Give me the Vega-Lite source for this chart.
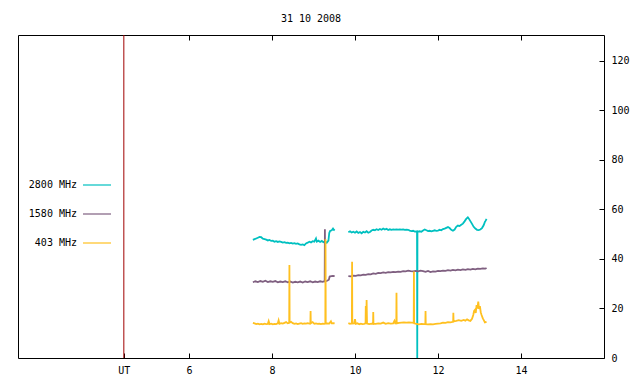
{
  "$schema": "https://vega.github.io/schema/vega-lite/v6.json",
  "width": 586,
  "height": 323,
  "autosize": {"type": "none"},
  "padding": {"left": 18, "top": 35, "right": 36, "bottom": 26},
  "background": "white",
  "title": {"text": "31 10 2008", "anchor": "middle", "font": "DejaVu Sans Mono", "fontSize": 10, "fontWeight": "normal", "color": "black", "offset": 11},
  "config": {
    "view": {"stroke": "black", "strokeWidth": 1},
    "axis": {"domain": false, "grid": false, "labelFont": "DejaVu Sans Mono", "labelFontSize": 10, "labelColor": "black", "tickColor": "black", "tickSize": -5, "title": null}
  },
  "datasets": {
    "traces": [
      {"s":"2800 MHz","g":1,"t":7.54,"v":47.7},{"s":"2800 MHz","g":1,"t":7.58,"v":48.0},{"s":"2800 MHz","g":1,"t":7.62,"v":48.3},{"s":"2800 MHz","g":1,"t":7.66,"v":48.6},{"s":"2800 MHz","g":1,"t":7.70,"v":48.9},{"s":"2800 MHz","g":1,"t":7.74,"v":48.8},{"s":"2800 MHz","g":1,"t":7.78,"v":48.2},{"s":"2800 MHz","g":1,"t":7.82,"v":48.0},{"s":"2800 MHz","g":1,"t":7.86,"v":47.8},{"s":"2800 MHz","g":1,"t":7.90,"v":47.5},{"s":"2800 MHz","g":1,"t":7.94,"v":47.7},{"s":"2800 MHz","g":1,"t":7.98,"v":47.3},{"s":"2800 MHz","g":1,"t":8.02,"v":47.4},{"s":"2800 MHz","g":1,"t":8.06,"v":47.0},{"s":"2800 MHz","g":1,"t":8.10,"v":47.2},{"s":"2800 MHz","g":1,"t":8.14,"v":46.9},{"s":"2800 MHz","g":1,"t":8.18,"v":47.1},{"s":"2800 MHz","g":1,"t":8.22,"v":46.9},{"s":"2800 MHz","g":1,"t":8.26,"v":46.6},{"s":"2800 MHz","g":1,"t":8.30,"v":46.8},{"s":"2800 MHz","g":1,"t":8.34,"v":46.5},{"s":"2800 MHz","g":1,"t":8.38,"v":46.6},{"s":"2800 MHz","g":1,"t":8.42,"v":46.3},{"s":"2800 MHz","g":1,"t":8.46,"v":46.5},{"s":"2800 MHz","g":1,"t":8.50,"v":46.2},{"s":"2800 MHz","g":1,"t":8.54,"v":46.4},{"s":"2800 MHz","g":1,"t":8.58,"v":46.1},{"s":"2800 MHz","g":1,"t":8.62,"v":46.3},{"s":"2800 MHz","g":1,"t":8.66,"v":45.9},{"s":"2800 MHz","g":1,"t":8.70,"v":45.7},{"s":"2800 MHz","g":1,"t":8.74,"v":45.9},{"s":"2800 MHz","g":1,"t":8.78,"v":45.6},{"s":"2800 MHz","g":1,"t":8.82,"v":46.3},{"s":"2800 MHz","g":1,"t":8.86,"v":46.6},{"s":"2800 MHz","g":1,"t":8.90,"v":47.0},{"s":"2800 MHz","g":1,"t":8.94,"v":46.7},{"s":"2800 MHz","g":1,"t":8.98,"v":47.2},{"s":"2800 MHz","g":1,"t":9.02,"v":47.0},{"s":"2800 MHz","g":1,"t":9.06,"v":48.3},{"s":"2800 MHz","g":1,"t":9.08,"v":47.0},{"s":"2800 MHz","g":1,"t":9.12,"v":47.4},{"s":"2800 MHz","g":1,"t":9.16,"v":46.9},{"s":"2800 MHz","g":1,"t":9.20,"v":47.3},{"s":"2800 MHz","g":1,"t":9.24,"v":46.8},{"s":"2800 MHz","g":1,"t":9.28,"v":47.1},{"s":"2800 MHz","g":1,"t":9.32,"v":46.6},{"s":"2800 MHz","g":1,"t":9.36,"v":47.4},{"s":"2800 MHz","g":1,"t":9.38,"v":50.5},{"s":"2800 MHz","g":1,"t":9.40,"v":51.3},{"s":"2800 MHz","g":1,"t":9.44,"v":51.6},{"s":"2800 MHz","g":1,"t":9.47,"v":52.3},{"s":"2800 MHz","g":1,"t":9.49,"v":51.8},{"s":"2800 MHz","g":1,"t":9.51,"v":51.5},
      {"s":"2800 MHz","g":2,"t":9.84,"v":50.8},{"s":"2800 MHz","g":2,"t":9.88,"v":51.2},{"s":"2800 MHz","g":2,"t":9.92,"v":50.7},{"s":"2800 MHz","g":2,"t":9.96,"v":51.0},{"s":"2800 MHz","g":2,"t":10.00,"v":50.6},{"s":"2800 MHz","g":2,"t":10.04,"v":51.1},{"s":"2800 MHz","g":2,"t":10.08,"v":50.5},{"s":"2800 MHz","g":2,"t":10.12,"v":50.9},{"s":"2800 MHz","g":2,"t":10.16,"v":50.4},{"s":"2800 MHz","g":2,"t":10.20,"v":51.0},{"s":"2800 MHz","g":2,"t":10.24,"v":50.7},{"s":"2800 MHz","g":2,"t":10.28,"v":51.2},{"s":"2800 MHz","g":2,"t":10.32,"v":50.6},{"s":"2800 MHz","g":2,"t":10.36,"v":50.9},{"s":"2800 MHz","g":2,"t":10.40,"v":51.5},{"s":"2800 MHz","g":2,"t":10.44,"v":51.8},{"s":"2800 MHz","g":2,"t":10.48,"v":51.6},{"s":"2800 MHz","g":2,"t":10.52,"v":52.0},{"s":"2800 MHz","g":2,"t":10.56,"v":51.7},{"s":"2800 MHz","g":2,"t":10.60,"v":52.1},{"s":"2800 MHz","g":2,"t":10.64,"v":51.8},{"s":"2800 MHz","g":2,"t":10.68,"v":52.3},{"s":"2800 MHz","g":2,"t":10.72,"v":51.9},{"s":"2800 MHz","g":2,"t":10.76,"v":52.2},{"s":"2800 MHz","g":2,"t":10.80,"v":51.7},{"s":"2800 MHz","g":2,"t":10.84,"v":52.0},{"s":"2800 MHz","g":2,"t":10.88,"v":51.8},{"s":"2800 MHz","g":2,"t":10.92,"v":52.0},{"s":"2800 MHz","g":2,"t":10.96,"v":51.9},{"s":"2800 MHz","g":2,"t":11.00,"v":52.0},{"s":"2800 MHz","g":2,"t":11.04,"v":51.9},{"s":"2800 MHz","g":2,"t":11.08,"v":52.0},{"s":"2800 MHz","g":2,"t":11.12,"v":51.9},{"s":"2800 MHz","g":2,"t":11.16,"v":52.0},{"s":"2800 MHz","g":2,"t":11.20,"v":51.8},{"s":"2800 MHz","g":2,"t":11.24,"v":51.9},{"s":"2800 MHz","g":2,"t":11.28,"v":51.8},{"s":"2800 MHz","g":2,"t":11.32,"v":51.5},{"s":"2800 MHz","g":2,"t":11.36,"v":51.3},{"s":"2800 MHz","g":2,"t":11.40,"v":51.4},{"s":"2800 MHz","g":2,"t":11.44,"v":51.1},{"s":"2800 MHz","g":2,"t":11.495,"v":51.2},{"s":"2800 MHz","g":2,"t":11.50,"v":0},{"s":"2800 MHz","g":2,"t":11.505,"v":51.0},{"s":"2800 MHz","g":2,"t":11.56,"v":51.2},{"s":"2800 MHz","g":2,"t":11.60,"v":51.0},{"s":"2800 MHz","g":2,"t":11.64,"v":51.5},{"s":"2800 MHz","g":2,"t":11.68,"v":51.9},{"s":"2800 MHz","g":2,"t":11.72,"v":51.6},{"s":"2800 MHz","g":2,"t":11.76,"v":51.3},{"s":"2800 MHz","g":2,"t":11.80,"v":51.4},{"s":"2800 MHz","g":2,"t":11.84,"v":51.2},{"s":"2800 MHz","g":2,"t":11.88,"v":51.4},{"s":"2800 MHz","g":2,"t":11.92,"v":51.6},{"s":"2800 MHz","g":2,"t":11.96,"v":51.4},{"s":"2800 MHz","g":2,"t":12.00,"v":51.5},{"s":"2800 MHz","g":2,"t":12.04,"v":51.8},{"s":"2800 MHz","g":2,"t":12.08,"v":51.6},{"s":"2800 MHz","g":2,"t":12.12,"v":52.1},{"s":"2800 MHz","g":2,"t":12.16,"v":52.3},{"s":"2800 MHz","g":2,"t":12.20,"v":52.6},{"s":"2800 MHz","g":2,"t":12.24,"v":52.9},{"s":"2800 MHz","g":2,"t":12.28,"v":52.5},{"s":"2800 MHz","g":2,"t":12.32,"v":51.8},{"s":"2800 MHz","g":2,"t":12.36,"v":51.4},{"s":"2800 MHz","g":2,"t":12.40,"v":51.9},{"s":"2800 MHz","g":2,"t":12.44,"v":53.0},{"s":"2800 MHz","g":2,"t":12.48,"v":53.5},{"s":"2800 MHz","g":2,"t":12.52,"v":53.3},{"s":"2800 MHz","g":2,"t":12.56,"v":53.8},{"s":"2800 MHz","g":2,"t":12.60,"v":54.3},{"s":"2800 MHz","g":2,"t":12.64,"v":55.2},{"s":"2800 MHz","g":2,"t":12.68,"v":56.2},{"s":"2800 MHz","g":2,"t":12.72,"v":56.8},{"s":"2800 MHz","g":2,"t":12.74,"v":56.4},{"s":"2800 MHz","g":2,"t":12.78,"v":55.3},{"s":"2800 MHz","g":2,"t":12.82,"v":54.2},{"s":"2800 MHz","g":2,"t":12.86,"v":53.0},{"s":"2800 MHz","g":2,"t":12.90,"v":52.3},{"s":"2800 MHz","g":2,"t":12.94,"v":51.8},{"s":"2800 MHz","g":2,"t":12.98,"v":51.7},{"s":"2800 MHz","g":2,"t":13.02,"v":51.9},{"s":"2800 MHz","g":2,"t":13.06,"v":52.5},{"s":"2800 MHz","g":2,"t":13.10,"v":53.6},{"s":"2800 MHz","g":2,"t":13.13,"v":55.0},{"s":"2800 MHz","g":2,"t":13.15,"v":55.5},{"s":"2800 MHz","g":2,"t":13.17,"v":56.2},
      {"s":"1580 MHz","g":1,"t":7.54,"v":30.6},{"s":"1580 MHz","g":1,"t":7.60,"v":31.0},{"s":"1580 MHz","g":1,"t":7.66,"v":30.7},{"s":"1580 MHz","g":1,"t":7.72,"v":31.1},{"s":"1580 MHz","g":1,"t":7.78,"v":30.8},{"s":"1580 MHz","g":1,"t":7.84,"v":31.2},{"s":"1580 MHz","g":1,"t":7.90,"v":30.7},{"s":"1580 MHz","g":1,"t":7.96,"v":31.0},{"s":"1580 MHz","g":1,"t":8.02,"v":30.8},{"s":"1580 MHz","g":1,"t":8.08,"v":31.1},{"s":"1580 MHz","g":1,"t":8.14,"v":30.6},{"s":"1580 MHz","g":1,"t":8.20,"v":30.9},{"s":"1580 MHz","g":1,"t":8.26,"v":30.7},{"s":"1580 MHz","g":1,"t":8.32,"v":31.0},{"s":"1580 MHz","g":1,"t":8.38,"v":30.6},{"s":"1580 MHz","g":1,"t":8.44,"v":30.9},{"s":"1580 MHz","g":1,"t":8.50,"v":30.5},{"s":"1580 MHz","g":1,"t":8.56,"v":30.8},{"s":"1580 MHz","g":1,"t":8.62,"v":30.6},{"s":"1580 MHz","g":1,"t":8.68,"v":30.9},{"s":"1580 MHz","g":1,"t":8.74,"v":30.5},{"s":"1580 MHz","g":1,"t":8.80,"v":30.9},{"s":"1580 MHz","g":1,"t":8.86,"v":30.7},{"s":"1580 MHz","g":1,"t":8.92,"v":31.0},{"s":"1580 MHz","g":1,"t":8.98,"v":30.6},{"s":"1580 MHz","g":1,"t":9.04,"v":30.9},{"s":"1580 MHz","g":1,"t":9.10,"v":30.7},{"s":"1580 MHz","g":1,"t":9.16,"v":31.0},{"s":"1580 MHz","g":1,"t":9.22,"v":30.8},{"s":"1580 MHz","g":1,"t":9.27,"v":31.1},{"s":"1580 MHz","g":1,"t":9.275,"v":52.0},{"s":"1580 MHz","g":1,"t":9.28,"v":31.0},{"s":"1580 MHz","g":1,"t":9.33,"v":31.2},{"s":"1580 MHz","g":1,"t":9.37,"v":31.6},{"s":"1580 MHz","g":1,"t":9.39,"v":32.9},{"s":"1580 MHz","g":1,"t":9.43,"v":33.1},{"s":"1580 MHz","g":1,"t":9.47,"v":33.2},{"s":"1580 MHz","g":1,"t":9.51,"v":33.1},
      {"s":"1580 MHz","g":2,"t":9.84,"v":33.1},{"s":"1580 MHz","g":2,"t":9.90,"v":33.0},{"s":"1580 MHz","g":2,"t":9.96,"v":33.3},{"s":"1580 MHz","g":2,"t":10.02,"v":33.2},{"s":"1580 MHz","g":2,"t":10.08,"v":33.5},{"s":"1580 MHz","g":2,"t":10.14,"v":33.4},{"s":"1580 MHz","g":2,"t":10.20,"v":33.7},{"s":"1580 MHz","g":2,"t":10.26,"v":33.6},{"s":"1580 MHz","g":2,"t":10.32,"v":33.9},{"s":"1580 MHz","g":2,"t":10.38,"v":33.8},{"s":"1580 MHz","g":2,"t":10.44,"v":34.2},{"s":"1580 MHz","g":2,"t":10.50,"v":34.0},{"s":"1580 MHz","g":2,"t":10.56,"v":34.4},{"s":"1580 MHz","g":2,"t":10.62,"v":34.3},{"s":"1580 MHz","g":2,"t":10.68,"v":34.6},{"s":"1580 MHz","g":2,"t":10.74,"v":34.4},{"s":"1580 MHz","g":2,"t":10.80,"v":34.7},{"s":"1580 MHz","g":2,"t":10.86,"v":34.6},{"s":"1580 MHz","g":2,"t":10.92,"v":34.8},{"s":"1580 MHz","g":2,"t":10.98,"v":34.7},{"s":"1580 MHz","g":2,"t":11.04,"v":34.9},{"s":"1580 MHz","g":2,"t":11.10,"v":34.8},{"s":"1580 MHz","g":2,"t":11.16,"v":35.1},{"s":"1580 MHz","g":2,"t":11.22,"v":35.0},{"s":"1580 MHz","g":2,"t":11.28,"v":35.3},{"s":"1580 MHz","g":2,"t":11.34,"v":35.1},{"s":"1580 MHz","g":2,"t":11.40,"v":35.0},{"s":"1580 MHz","g":2,"t":11.46,"v":35.2},{"s":"1580 MHz","g":2,"t":11.52,"v":35.0},{"s":"1580 MHz","g":2,"t":11.58,"v":35.3},{"s":"1580 MHz","g":2,"t":11.64,"v":35.1},{"s":"1580 MHz","g":2,"t":11.70,"v":34.8},{"s":"1580 MHz","g":2,"t":11.76,"v":35.2},{"s":"1580 MHz","g":2,"t":11.82,"v":34.7},{"s":"1580 MHz","g":2,"t":11.88,"v":35.0},{"s":"1580 MHz","g":2,"t":11.94,"v":34.9},{"s":"1580 MHz","g":2,"t":12.00,"v":35.2},{"s":"1580 MHz","g":2,"t":12.06,"v":35.1},{"s":"1580 MHz","g":2,"t":12.12,"v":35.3},{"s":"1580 MHz","g":2,"t":12.18,"v":35.2},{"s":"1580 MHz","g":2,"t":12.24,"v":35.5},{"s":"1580 MHz","g":2,"t":12.30,"v":35.3},{"s":"1580 MHz","g":2,"t":12.36,"v":35.6},{"s":"1580 MHz","g":2,"t":12.42,"v":35.4},{"s":"1580 MHz","g":2,"t":12.48,"v":35.7},{"s":"1580 MHz","g":2,"t":12.54,"v":35.5},{"s":"1580 MHz","g":2,"t":12.60,"v":35.8},{"s":"1580 MHz","g":2,"t":12.66,"v":35.6},{"s":"1580 MHz","g":2,"t":12.72,"v":35.9},{"s":"1580 MHz","g":2,"t":12.78,"v":35.7},{"s":"1580 MHz","g":2,"t":12.84,"v":36.0},{"s":"1580 MHz","g":2,"t":12.90,"v":35.8},{"s":"1580 MHz","g":2,"t":12.96,"v":36.1},{"s":"1580 MHz","g":2,"t":13.02,"v":36.0},{"s":"1580 MHz","g":2,"t":13.08,"v":36.2},{"s":"1580 MHz","g":2,"t":13.14,"v":36.1},{"s":"1580 MHz","g":2,"t":13.17,"v":36.4},
      {"s":"403 MHz","g":1,"t":7.54,"v":14.2},{"s":"403 MHz","g":1,"t":7.58,"v":14.0},{"s":"403 MHz","g":1,"t":7.62,"v":13.7},{"s":"403 MHz","g":1,"t":7.66,"v":13.9},{"s":"403 MHz","g":1,"t":7.70,"v":13.6},{"s":"403 MHz","g":1,"t":7.74,"v":13.8},{"s":"403 MHz","g":1,"t":7.78,"v":13.6},{"s":"403 MHz","g":1,"t":7.82,"v":13.9},{"s":"403 MHz","g":1,"t":7.86,"v":13.7},{"s":"403 MHz","g":1,"t":7.90,"v":13.8},{"s":"403 MHz","g":1,"t":7.92,"v":14.9},{"s":"403 MHz","g":1,"t":7.94,"v":13.7},{"s":"403 MHz","g":1,"t":7.98,"v":13.9},{"s":"403 MHz","g":1,"t":8.02,"v":13.6},{"s":"403 MHz","g":1,"t":8.06,"v":13.8},{"s":"403 MHz","g":1,"t":8.10,"v":13.7},{"s":"403 MHz","g":1,"t":8.14,"v":14.0},{"s":"403 MHz","g":1,"t":8.16,"v":15.2},{"s":"403 MHz","g":1,"t":8.18,"v":13.8},{"s":"403 MHz","g":1,"t":8.22,"v":14.1},{"s":"403 MHz","g":1,"t":8.26,"v":13.9},{"s":"403 MHz","g":1,"t":8.30,"v":14.2},{"s":"403 MHz","g":1,"t":8.34,"v":14.5},{"s":"403 MHz","g":1,"t":8.38,"v":14.0},{"s":"403 MHz","g":1,"t":8.415,"v":14.2},{"s":"403 MHz","g":1,"t":8.42,"v":37.6},{"s":"403 MHz","g":1,"t":8.425,"v":14.3},{"s":"403 MHz","g":1,"t":8.46,"v":14.6},{"s":"403 MHz","g":1,"t":8.50,"v":14.1},{"s":"403 MHz","g":1,"t":8.54,"v":13.8},{"s":"403 MHz","g":1,"t":8.58,"v":14.0},{"s":"403 MHz","g":1,"t":8.62,"v":13.7},{"s":"403 MHz","g":1,"t":8.66,"v":13.9},{"s":"403 MHz","g":1,"t":8.70,"v":14.1},{"s":"403 MHz","g":1,"t":8.74,"v":13.8},{"s":"403 MHz","g":1,"t":8.78,"v":14.0},{"s":"403 MHz","g":1,"t":8.82,"v":13.9},{"s":"403 MHz","g":1,"t":8.86,"v":14.1},{"s":"403 MHz","g":1,"t":8.90,"v":13.9},{"s":"403 MHz","g":1,"t":8.925,"v":14.0},{"s":"403 MHz","g":1,"t":8.93,"v":19.0},{"s":"403 MHz","g":1,"t":8.935,"v":14.0},{"s":"403 MHz","g":1,"t":8.98,"v":14.5},{"s":"403 MHz","g":1,"t":9.02,"v":13.8},{"s":"403 MHz","g":1,"t":9.06,"v":14.0},{"s":"403 MHz","g":1,"t":9.10,"v":13.8},{"s":"403 MHz","g":1,"t":9.14,"v":13.9},{"s":"403 MHz","g":1,"t":9.18,"v":13.7},{"s":"403 MHz","g":1,"t":9.22,"v":13.9},{"s":"403 MHz","g":1,"t":9.26,"v":13.8},{"s":"403 MHz","g":1,"t":9.285,"v":13.9},{"s":"403 MHz","g":1,"t":9.29,"v":48.0},{"s":"403 MHz","g":1,"t":9.295,"v":13.9},{"s":"403 MHz","g":1,"t":9.34,"v":14.0},{"s":"403 MHz","g":1,"t":9.38,"v":13.9},{"s":"403 MHz","g":1,"t":9.42,"v":14.8},{"s":"403 MHz","g":1,"t":9.44,"v":14.0},{"s":"403 MHz","g":1,"t":9.48,"v":14.1},{"s":"403 MHz","g":1,"t":9.51,"v":14.0},
      {"s":"403 MHz","g":2,"t":9.84,"v":14.1},{"s":"403 MHz","g":2,"t":9.88,"v":13.8},{"s":"403 MHz","g":2,"t":9.925,"v":14.0},{"s":"403 MHz","g":2,"t":9.93,"v":38.9},{"s":"403 MHz","g":2,"t":9.935,"v":13.9},{"s":"403 MHz","g":2,"t":9.98,"v":14.0},{"s":"403 MHz","g":2,"t":10.00,"v":15.7},{"s":"403 MHz","g":2,"t":10.02,"v":13.8},{"s":"403 MHz","g":2,"t":10.06,"v":14.0},{"s":"403 MHz","g":2,"t":10.10,"v":13.6},{"s":"403 MHz","g":2,"t":10.14,"v":13.9},{"s":"403 MHz","g":2,"t":10.18,"v":13.7},{"s":"403 MHz","g":2,"t":10.22,"v":13.8},{"s":"403 MHz","g":2,"t":10.255,"v":14.0},{"s":"403 MHz","g":2,"t":10.26,"v":21.0},{"s":"403 MHz","g":2,"t":10.27,"v":14.0},{"s":"403 MHz","g":2,"t":10.28,"v":23.4},{"s":"403 MHz","g":2,"t":10.29,"v":13.9},{"s":"403 MHz","g":2,"t":10.34,"v":13.7},{"s":"403 MHz","g":2,"t":10.40,"v":13.9},{"s":"403 MHz","g":2,"t":10.435,"v":13.8},{"s":"403 MHz","g":2,"t":10.44,"v":18.6},{"s":"403 MHz","g":2,"t":10.445,"v":13.8},{"s":"403 MHz","g":2,"t":10.50,"v":13.8},{"s":"403 MHz","g":2,"t":10.56,"v":14.0},{"s":"403 MHz","g":2,"t":10.62,"v":13.9},{"s":"403 MHz","g":2,"t":10.68,"v":14.3},{"s":"403 MHz","g":2,"t":10.74,"v":13.8},{"s":"403 MHz","g":2,"t":10.80,"v":14.1},{"s":"403 MHz","g":2,"t":10.86,"v":13.9},{"s":"403 MHz","g":2,"t":10.92,"v":14.0},{"s":"403 MHz","g":2,"t":10.95,"v":15.0},{"s":"403 MHz","g":2,"t":10.97,"v":14.0},{"s":"403 MHz","g":2,"t":10.995,"v":14.0},{"s":"403 MHz","g":2,"t":11.00,"v":26.4},{"s":"403 MHz","g":2,"t":11.005,"v":14.0},{"s":"403 MHz","g":2,"t":11.06,"v":14.2},{"s":"403 MHz","g":2,"t":11.12,"v":14.3},{"s":"403 MHz","g":2,"t":11.18,"v":14.4},{"s":"403 MHz","g":2,"t":11.24,"v":14.3},{"s":"403 MHz","g":2,"t":11.30,"v":14.4},{"s":"403 MHz","g":2,"t":11.36,"v":14.3},{"s":"403 MHz","g":2,"t":11.415,"v":14.2},{"s":"403 MHz","g":2,"t":11.42,"v":34.9},{"s":"403 MHz","g":2,"t":11.425,"v":14.0},{"s":"403 MHz","g":2,"t":11.48,"v":13.8},{"s":"403 MHz","g":2,"t":11.54,"v":13.6},{"s":"403 MHz","g":2,"t":11.60,"v":13.8},{"s":"403 MHz","g":2,"t":11.66,"v":13.7},{"s":"403 MHz","g":2,"t":11.695,"v":13.8},{"s":"403 MHz","g":2,"t":11.70,"v":19.0},{"s":"403 MHz","g":2,"t":11.705,"v":13.7},{"s":"403 MHz","g":2,"t":11.76,"v":13.6},{"s":"403 MHz","g":2,"t":11.82,"v":13.7},{"s":"403 MHz","g":2,"t":11.88,"v":13.6},{"s":"403 MHz","g":2,"t":11.94,"v":13.8},{"s":"403 MHz","g":2,"t":12.00,"v":13.9},{"s":"403 MHz","g":2,"t":12.06,"v":14.0},{"s":"403 MHz","g":2,"t":12.12,"v":14.3},{"s":"403 MHz","g":2,"t":12.18,"v":14.2},{"s":"403 MHz","g":2,"t":12.24,"v":14.5},{"s":"403 MHz","g":2,"t":12.30,"v":14.4},{"s":"403 MHz","g":2,"t":12.365,"v":14.6},{"s":"403 MHz","g":2,"t":12.37,"v":18.3},{"s":"403 MHz","g":2,"t":12.375,"v":14.8},{"s":"403 MHz","g":2,"t":12.44,"v":15.0},{"s":"403 MHz","g":2,"t":12.50,"v":15.3},{"s":"403 MHz","g":2,"t":12.56,"v":15.0},{"s":"403 MHz","g":2,"t":12.62,"v":15.4},{"s":"403 MHz","g":2,"t":12.66,"v":15.1},{"s":"403 MHz","g":2,"t":12.70,"v":15.6},{"s":"403 MHz","g":2,"t":12.74,"v":15.2},{"s":"403 MHz","g":2,"t":12.78,"v":15.0},{"s":"403 MHz","g":2,"t":12.82,"v":15.8},{"s":"403 MHz","g":2,"t":12.85,"v":17.4},{"s":"403 MHz","g":2,"t":12.87,"v":19.0},{"s":"403 MHz","g":2,"t":12.89,"v":19.4},{"s":"403 MHz","g":2,"t":12.91,"v":18.2},{"s":"403 MHz","g":2,"t":12.93,"v":21.4},{"s":"403 MHz","g":2,"t":12.95,"v":20.0},{"s":"403 MHz","g":2,"t":12.97,"v":22.8},{"s":"403 MHz","g":2,"t":12.99,"v":19.8},{"s":"403 MHz","g":2,"t":13.01,"v":21.0},{"s":"403 MHz","g":2,"t":13.03,"v":18.5},{"s":"403 MHz","g":2,"t":13.05,"v":17.4},{"s":"403 MHz","g":2,"t":13.08,"v":16.0},{"s":"403 MHz","g":2,"t":13.10,"v":15.4},{"s":"403 MHz","g":2,"t":13.13,"v":14.4},{"s":"403 MHz","g":2,"t":13.17,"v":14.6}
    ],
    "marker": [{"t": 4.43}]
  },
  "layer": [
    {
      "data": {"name": "marker"},
      "mark": {"type": "rule", "color": "#a00000", "strokeWidth": 1},
      "encoding": {
        "x": {"field": "t", "type": "quantitative", "scale": {"domain": [1.88, 16], "nice": false, "zero": false},
              "axis": {"orient": "top", "values": [6, 8, 10, 12, 14], "labels": false}}
      }
    },
    {
      "data": {"name": "traces"},
      "mark": {"type": "line", "strokeWidth": 1.8, "interpolate": "linear"},
      "encoding": {
        "x": {"field": "t", "type": "quantitative", "scale": {"domain": [1.88, 16], "nice": false, "zero": false},
              "axis": {"orient": "bottom", "values": [4.43, 6, 8, 10, 12, 14], "labelExpr": "datum.value < 5 ? 'UT' : datum.label", "labelPadding": 12}},
        "y": {"field": "v", "type": "quantitative", "scale": {"domain": [0, 130.5], "nice": false, "zero": false},
              "axis": {"orient": "right", "values": [0, 20, 40, 60, 80, 100, 120], "labelPadding": 12}},
        "color": {"field": "s", "type": "nominal",
                  "scale": {"domain": ["2800 MHz", "1580 MHz", "403 MHz"], "range": ["#00c0c0", "#7f5f80", "#ffc020"]},
                  "legend": {"title": null, "orient": "none", "legendX": 64, "legendY": 135, "symbolType": "stroke", "symbolSize": 784, "symbolStrokeWidth": 1.2, "labelAlign": "right", "labelOffset": -35, "labelFont": "DejaVu Sans Mono", "labelFontSize": 10, "labelColor": "black", "rowPadding": 9}},
        "detail": {"field": "g", "type": "nominal"}
      }
    }
  ],
  "resolve": {"axis": {"x": "independent"}}
}
